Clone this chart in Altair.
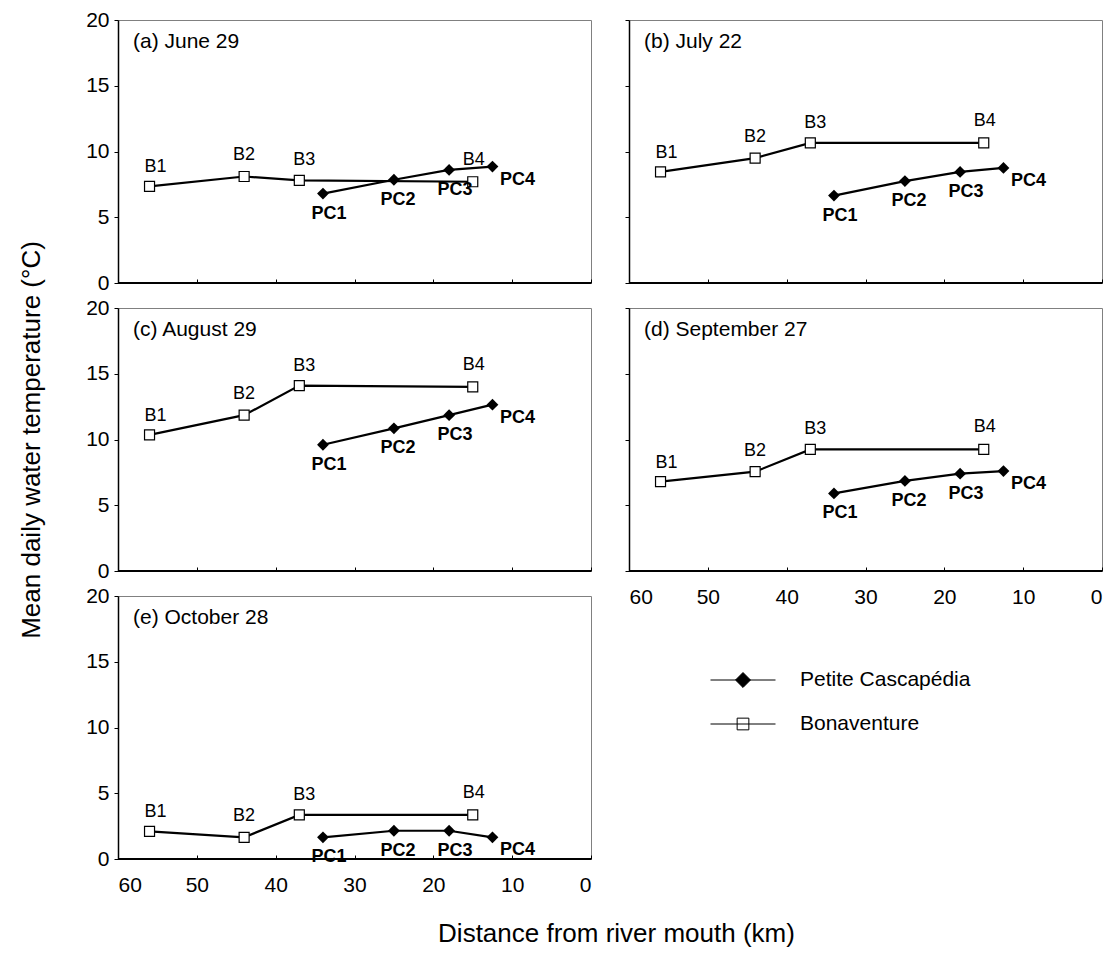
import altair as alt
import pandas as pd

# ---------------- data ----------------
B_STATIONS = ["B1", "B2", "B3", "B4"]
PC_STATIONS = ["PC1", "PC2", "PC3", "PC4"]
B_DIST = [56, 44, 37, 15]
PC_DIST = [34, 25, 18, 12.5]

PANEL_TITLES = ["(a) June 29", "(b) July 22", "(c) August 29",
                "(d) September 27", "(e) October 28"]

A_B_TEMP = [7.35, 8.1, 7.8, 7.7]
A_PC_TEMP = [6.8, 7.85, 8.6, 8.85]
B_B_TEMP = [8.45, 9.5, 10.65, 10.65]
B_PC_TEMP = [6.65, 7.75, 8.45, 8.75]
C_B_TEMP = [10.35, 11.85, 14.1, 14.0]
C_PC_TEMP = [9.6, 10.85, 11.85, 12.65]
D_B_TEMP = [6.8, 7.55, 9.25, 9.25]
D_PC_TEMP = [5.9, 6.85, 7.4, 7.6]
E_B_TEMP = [2.1, 1.65, 3.35, 3.35]
E_PC_TEMP = [1.65, 2.15, 2.15, 1.65]

SERIES = ["Petite Cascapédia", "Bonaventure"]
X_TICKS = [60, 50, 40, 30, 20, 10, 0]
Y_TICKS = [0, 5, 10, 15, 20]

X_TITLE = "Distance from river mouth (km)"
Y_TITLE = "Mean daily water temperature (°C)"

# ---------------- style ----------------
FONT = "Liberation Sans"
W, H = 473, 263
B_LABEL_OFFSET = {"B1": (6, -19), "B2": (0, -21), "B3": (5, -20), "B4": (1, -22)}
PC_LABEL_OFFSET = {"PC1": (6, 20), "PC2": (4, 20), "PC3": (6, 20), "PC4": (25, 13)}
PC_PATH = "M-1,0L1,0M0,-0.23L0.23,0L0,0.23L-0.23,0Z"
B_PATH = "M-1,0L1,0M-0.18,-0.18L0.18,-0.18L0.18,0.18L-0.18,0.18Z"


def panel(title, title_offset, b_temp, pc_temp, show_x, show_y,
          x_title=False, y_title=False):
    df_b = pd.DataFrame({"dist": B_DIST, "temp": b_temp, "station": B_STATIONS})
    df_pc = pd.DataFrame({"dist": PC_DIST, "temp": pc_temp, "station": PC_STATIONS})

    xaxis_kw = dict(values=X_TICKS, domain=False, offset=-4, tickSize=4,
                    tickColor="black", tickWidth=1, labels=show_x,
                    labelFontSize=21, labelPadding=15, labelColor="black",
                    grid=False, title=None)
    if x_title:
        xaxis_kw.update(title=X_TITLE, titleFontSize=26, titleFontWeight="normal",
                        titleColor="black", titleX=498, titleY=78,
                        titleBaseline="middle", titleAlign="center")
    yaxis_kw = dict(values=Y_TICKS, domainColor="black", domainWidth=1.5,
                    tickSize=4, tickColor="black", tickWidth=1, labels=show_y,
                    labelFontSize=21, labelPadding=5, labelColor="black",
                    grid=False, title=None)
    if y_title:
        yaxis_kw.update(title=Y_TITLE, titleFontSize=26, titleFontWeight="normal",
                        titleColor="black", titleX=-87, titleY=H / 2,
                        titleBaseline="middle", titleAngle=270, titleAlign="center")

    xscale = alt.Scale(domain=[60, 0], nice=False)
    yscale = alt.Scale(domain=[0, 20], nice=False)
    x = alt.X("dist:Q", scale=xscale, axis=alt.Axis(**xaxis_kw))
    y = alt.Y("temp:Q", scale=yscale, axis=alt.Axis(**yaxis_kw))

    layers = []
    layers.append(alt.Chart(df_b).mark_line(color="black", strokeWidth=2.2).encode(x=x, y=y))
    layers.append(alt.Chart(df_pc).mark_line(color="black", strokeWidth=2.2).encode(x=x, y=y))
    layers.append(alt.Chart(df_b).mark_point(shape="square", filled=True, fill="white",
                                             stroke="black", strokeWidth=1.2, size=100,
                                             opacity=1).encode(x=x, y=y))
    layers.append(alt.Chart(df_pc).mark_point(shape="diamond", filled=True, color="black",
                                              size=140, opacity=1).encode(x=x, y=y))
    for st, (dx, dy) in B_LABEL_OFFSET.items():
        layers.append(alt.Chart(df_b).transform_filter(alt.datum.station == st)
                      .mark_text(dx=dx, dy=dy, fontSize=18, color="black", font=FONT)
                      .encode(x=x, y=y, text="station:N"))
    for st, (dx, dy) in PC_LABEL_OFFSET.items():
        layers.append(alt.Chart(df_pc).transform_filter(alt.datum.station == st)
                      .mark_text(dx=dx, dy=dy, fontSize=18, fontWeight="bold",
                                 color="black", font=FONT)
                      .encode(x=x, y=y, text="station:N"))
    # bottom frame line at y = 0
    layers.append(alt.Chart(df_b).mark_rule(color="black", strokeWidth=1.5)
                  .encode(y=alt.Y(datum=0, type="quantitative", scale=yscale,
                                  axis=alt.Axis(**yaxis_kw))))

    return alt.layer(*layers).properties(
        width=W, height=H,
        title=alt.TitleParams(title, anchor="start", frame="group", orient="top",
                              offset=title_offset, dx=15, fontSize=21,
                              fontWeight="normal", color="black", font=FONT),
    )


pa = panel(PANEL_TITLES[0], -43, A_B_TEMP, A_PC_TEMP, False, True)
pb = panel(PANEL_TITLES[1], -32, B_B_TEMP, B_PC_TEMP, False, False)
pc = panel(PANEL_TITLES[2], -99, C_B_TEMP, C_PC_TEMP, False, True, y_title=True)
pd_ = panel(PANEL_TITLES[3], -32, D_B_TEMP, D_PC_TEMP, True, False)
pe = panel(PANEL_TITLES[4], -43, E_B_TEMP, E_PC_TEMP, True, True, x_title=True)

legend_df = pd.DataFrame({"series": SERIES})
leg = alt.Legend(title=None, orient="none", legendX=592, legendY=649,
                 symbolSize=4225, symbolStrokeColor="black", symbolStrokeWidth=1,
                 labelFontSize=21, labelFont=FONT, labelColor="black", labelLimit=400,
                 labelOffset=24, rowPadding=22, clipHeight=22, padding=0)
legend_chart = alt.Chart(legend_df).transform_filter("false").mark_point(
    filled=True, strokeWidth=1, opacity=1
).encode(
    shape=alt.Shape("series:N", scale=alt.Scale(domain=SERIES, range=[PC_PATH, B_PATH]),
                    legend=leg),
    fill=alt.Fill("series:N", scale=alt.Scale(domain=SERIES, range=["black", "white"]),
                  legend=leg),
    stroke=alt.Stroke("series:N", scale=alt.Scale(domain=SERIES, range=["black", "black"]),
                      legend=leg),
).properties(width=W, height=H, view=alt.ViewBackground(stroke="transparent"))

chart = alt.concat(pa, pb, pc, pd_, pe, legend_chart, columns=2,
                   spacing={"row": 25, "column": 38}, bounds="flush").properties(
    padding={"left": 9, "top": 0, "right": 5, "bottom": 0}
).configure(font=FONT).configure_view(stroke="#808080", strokeWidth=1)

chart.save("out.html", embed_options={"renderer": "svg", "actions": False})
